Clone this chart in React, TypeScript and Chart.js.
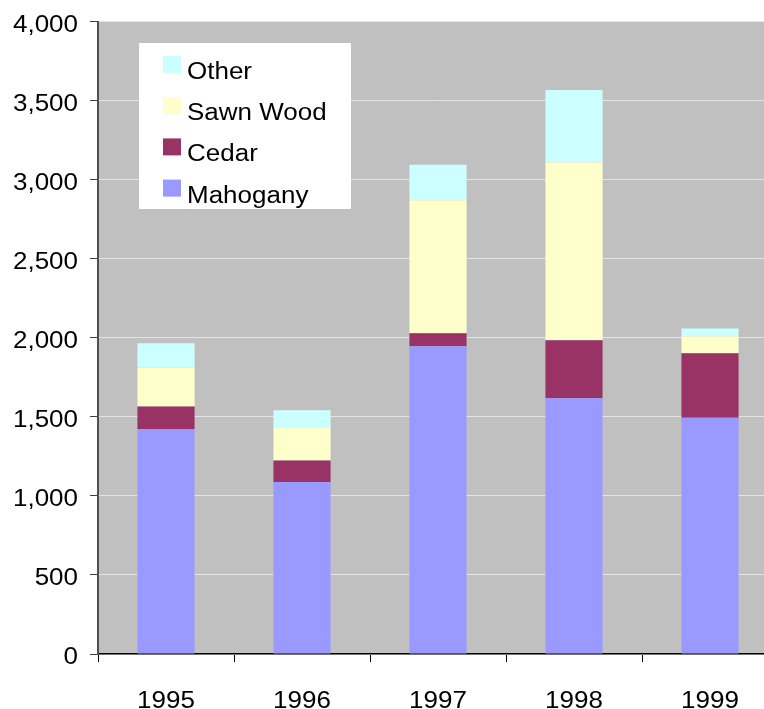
import React, { useEffect, useRef } from "react";
import { Chart, registerables } from "chart.js";

Chart.register(...registerables);

// Export volumes by year and product
const years = ["1995", "1996", "1997", "1998", "1999"];
const mahogany = [1421, 1087, 1946, 1618, 1494];
const cedar = [145, 136, 82, 366, 408];
const sawnWood = [246, 211, 841, 1124, 107];
const other = [153, 107, 225, 459, 49];
const yTicks = [0, 500, 1000, 1500, 2000, 2500, 3000, 3500, 4000];

const FONT = "'Liberation Sans', Arial, sans-serif";
const FONT_SIZE = 23;
// Horizontal widening applied to every text run on the canvas
const TEXT_STRETCH = 1.13;
// Value-axis labels sit slightly below their tick marks
const VALUE_LABEL_DROP = 4;

// Grey plot background
const plotBackground = {
  id: "plotBackground",
  beforeDraw(chart: any) {
    const { ctx, chartArea } = chart;
    ctx.save();
    ctx.fillStyle = "#C0C0C0";
    ctx.fillRect(chartArea.left, chartArea.top, chartArea.right - chartArea.left, chartArea.bottom - chartArea.top);
    ctx.restore();
  },
};

// Boxed legend drawn inside the plot, top series first
const boxedLegend = {
  id: "boxedLegend",
  afterDraw(chart: any) {
    const { ctx } = chart;
    const boxX = 139, boxY = 43, boxW = 212, boxH = 166;
    ctx.save();
    ctx.fillStyle = "#FFFFFF";
    ctx.fillRect(boxX, boxY, boxW, boxH);
    const items = [...chart.data.datasets].reverse();
    ctx.font = `${FONT_SIZE}px ${FONT}`;
    ctx.textAlign = "left";
    ctx.textBaseline = "alphabetic";
    items.forEach((ds: any, i: number) => {
      const cy = 64.5 + i * 41.2;
      ctx.fillStyle = ds.backgroundColor;
      ctx.fillRect(163, cy - 8.5, 18, 17);
      ctx.fillStyle = "#000000";
      ctx.fillText(ds.label, 187, cy + 14.5);
    });
    ctx.restore();
  },
};

function widenText(ctx: CanvasRenderingContext2D) {
  const base = ctx.fillText.bind(ctx);
  (ctx as any).fillText = (text: string, x: number, y: number) => {
    const drop = ctx.textBaseline === "middle" && ctx.textAlign === "right" ? VALUE_LABEL_DROP : 0;
    ctx.save();
    ctx.translate(x, y + drop);
    ctx.scale(TEXT_STRETCH, 1);
    base(text, 0, 0);
    ctx.restore();
  };
}

export default function App() {
  const ref = useRef<HTMLCanvasElement | null>(null);

  useEffect(() => {
    if (!ref.current) return;
    const ctx = ref.current.getContext("2d");
    if (ctx) widenText(ctx);
    const chart = new Chart(ref.current, {
      type: "bar",
      data: {
        labels: years,
        datasets: [
          { label: "Mahogany", data: mahogany, backgroundColor: "#9999FF" },
          { label: "Cedar", data: cedar, backgroundColor: "#993366" },
          { label: "Sawn Wood", data: sawnWood, backgroundColor: "#FFFFCC" },
          { label: "Other", data: other, backgroundColor: "#CCFFFF" },
        ],
      },
      options: {
        responsive: false,
        animation: false,
        layout: { padding: { top: 21.5, right: 0, left: 0, bottom: 0 } },
        datasets: { bar: { categoryPercentage: 1, barPercentage: 0.42, borderWidth: 0 } },
        plugins: {
          legend: { display: false },
          tooltip: { enabled: false },
        },
        scales: {
          x: {
            stacked: true,
            offset: true,
            afterFit: (s: any) => { s.height = 55; s.paddingLeft = 0; s.paddingRight = 0; },
            grid: {
              offset: true,
              drawOnChartArea: false,
              drawTicks: true,
              tickLength: 8,
              tickColor: "#000000",
              tickWidth: 1,
            },
            border: { color: "#000000", width: 1.5 },
            ticks: {
              color: "#000000",
              font: { family: FONT, size: FONT_SIZE },
              padding: 26,
              maxRotation: 0,
            },
          },
          y: {
            stacked: true,
            min: 0,
            max: 4000,
            afterFit: (s: any) => { s.width = 98; s.paddingTop = 0; s.paddingBottom = 0; },
            afterBuildTicks: (s: any) => { s.ticks = yTicks.map((v) => ({ value: v })); },
            grid: {
              color: "#E4E4E4",
              lineWidth: 1,
              tickLength: 8,
              tickColor: "#404040",
              tickWidth: 1,
            },
            border: { color: "#505050", width: 2 },
            ticks: {
              color: "#000000",
              font: { family: FONT, size: FONT_SIZE },
              padding: 12,
              callback: (v: any) => Number(v).toLocaleString("en-US"),
            },
          },
        },
      },
      plugins: [plotBackground, boxedLegend],
    });
    return () => chart.destroy();
  }, []);

  return (
    <div style={{ position: "fixed", left: 0, top: 0, width: 764, height: 709, overflow: "hidden", background: "#FFFFFF" }}>
      <canvas ref={ref} width={778} height={709} style={{ display: "block" }} />
    </div>
  );
}
